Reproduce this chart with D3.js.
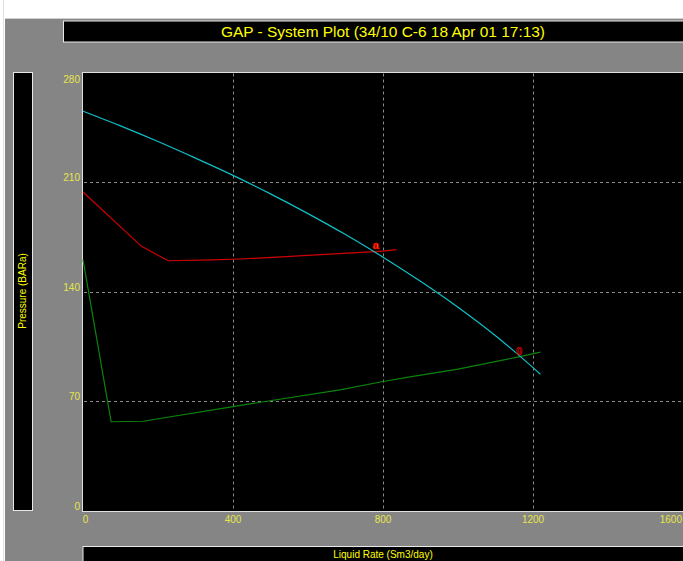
<!DOCTYPE html>
<html><head><meta charset="utf-8">
<script src="https://cdn.jsdelivr.net/npm/d3@7"></script>
<style>html,body{margin:0;padding:0;background:#fff;overflow:hidden}</style>
</head><body>
<svg id="c" width="683" height="561"></svg>
<script>
const titleText = "GAP - System Plot (34/10 C-6 18 Apr 01  17:13)";
const xLabel = "Liquid Rate  (Sm3/day)";
const yLabel = "Pressure  (BARa)";
const xTicks = [0, 400, 800, 1200, 1600];
const yTicks = [0, 70, 140, 210, 280];

const cyanX = [0, 100, 200, 300, 400, 500, 600, 700, 800, 900, 1000, 1100, 1165, 1220];
const cyanY = [255.3, 245.9, 235.9, 225.3, 214.3, 202.5, 189.9, 176.5, 162.1, 146.7, 130.1, 111.9, 98.9, 87.3];
const redX = [0, 156, 227, 343, 419, 600, 800, 836];
const redY = [203.7, 169, 159.8, 160.3, 160.9, 163.2, 166, 166.9];
const greenX = [0, 75, 160, 400, 685, 800, 880, 1000, 1165, 1220];
const greenY = [160.5, 57, 57.3, 66.7, 77.4, 82.7, 86, 90.6, 98.6, 101.5];
const markerLabels = ["a", "0"];
const markerX = [781, 1163];
const markerY = [167.5, 99.7];

const svg = d3.select("#c");
const W = 683, H = 561;
const plot = {l: 83, r: 683, t: 72.5, b: 511};
const x = d3.scaleLinear().domain([0, 1600]).range([plot.l, plot.r]);
const y = d3.scaleLinear().domain([0, 280]).range([plot.b, plot.t]);
const font = "'Liberation Sans', Arial, sans-serif";
const yellow = "#ffff00";
const tickYellow = "#e6e64c";

// background
svg.append("rect").attr("width", W).attr("height", H).attr("fill", "#ffffff");
svg.append("rect").attr("x", 5).attr("y", 19).attr("width", W - 5).attr("height", H - 19).attr("fill", "#858585");
svg.append("line").attr("x1", 3.5).attr("x2", 3.5).attr("y1", 0).attr("y2", H).attr("stroke", "#e0e0e0");
svg.append("line").attr("x1", 5).attr("x2", W).attr("y1", 18.5).attr("y2", 18.5).attr("stroke", "#d0d0d0");

// title box
svg.append("rect").attr("x", 63.5).attr("y", 21).attr("width", W).attr("height", 21)
  .attr("fill", "#000").attr("stroke", "#e8e8e8").attr("stroke-width", 1);
svg.append("text").attr("x", 383).attr("y", 37).attr("text-anchor", "middle")
  .attr("font-family", font).attr("font-size", 15.5).attr("fill", yellow)
  .attr("textLength", 324).attr("lengthAdjust", "spacingAndGlyphs").text(titleText);

// y label box
svg.append("rect").attr("x", 13.5).attr("y", 72.5).attr("width", 19).attr("height", 438)
  .attr("fill", "#000").attr("stroke", "#e8e8e8");
svg.append("text").attr("transform", "translate(26,291) rotate(-90)").attr("text-anchor", "middle")
  .attr("font-family", font).attr("font-size", 10).attr("fill", yellow).text(yLabel);

// x label box
svg.append("rect").attr("x", 83).attr("y", 546.5).attr("width", W).attr("height", 20)
  .attr("fill", "#000").attr("stroke", "#e8e8e8");
svg.append("text").attr("x", 383).attr("y", 558).attr("text-anchor", "middle")
  .attr("font-family", font).attr("font-size", 10).attr("fill", yellow).text(xLabel);

// plot area
svg.append("rect").attr("x", plot.l - 0.5).attr("y", plot.t).attr("width", plot.r - plot.l + 5).attr("height", plot.b - plot.t + 0.5)
  .attr("fill", "#000").attr("stroke", "#e0e0e0");

// grid
const g = svg.append("g");
g.selectAll(".gx").data(xTicks.filter(d => d > 0 && d < 1600)).join("line")
  .attr("x1", d => Math.round(x(d)) + 0.5).attr("x2", d => Math.round(x(d)) + 0.5)
  .attr("y1", plot.t + 1).attr("y2", plot.b - 1)
  .attr("stroke", "#8a8a8a").attr("stroke-dasharray", "3,3");
g.selectAll(".gy").data(yTicks.filter(d => d > 0 && d < 280)).join("line")
  .attr("y1", d => Math.round(y(d)) + 0.5).attr("y2", d => Math.round(y(d)) + 0.5)
  .attr("x1", plot.l + 1).attr("x2", plot.r)
  .attr("stroke", "#8a8a8a").attr("stroke-dasharray", "3,3");

// tick labels
svg.selectAll(".yt").data(yTicks).join("text")
  .attr("x", 80).attr("y", d => d === 280 ? y(d) + 10 : y(d) - 1)
  .attr("text-anchor", "end").attr("font-family", font).attr("font-size", 10)
  .attr("fill", tickYellow).text(d => d);
svg.selectAll(".xt").data(xTicks).join("text")
  .attr("x", d => d === 0 ? x(d) + 2.5 : (d === 1600 ? 682 : x(d)))
  .attr("y", 523)
  .attr("text-anchor", d => d === 1600 ? "end" : "middle").attr("font-family", font).attr("font-size", 10)
  .attr("fill", tickYellow).text(d => d);

// curves
const line = d3.line().x(d => x(d[0])).y(d => y(d[1]));
const smooth = d3.line().x(d => x(d[0])).y(d => y(d[1])).curve(d3.curveMonotoneX);
function draw(xs, ys, col, gen) {
  svg.append("path").datum(xs.map((v, i) => [v, ys[i]])).attr("d", gen)
    .attr("fill", "none").attr("stroke", col).attr("stroke-width", 1.2);
}
draw(greenX, greenY, "#0b840b", line);
draw(redX, redY, "#d00000", line);
draw(cyanX, cyanY, "#10c0c8", smooth);

// operating point markers
svg.selectAll(".mk").data(markerLabels).join("text")
  .attr("x", (d, i) => x(markerX[i])).attr("y", (d, i) => y(markerY[i]))
  .attr("text-anchor", "middle").attr("font-family", font).attr("font-size", 11).attr("font-weight", "bold")
  .attr("fill", (d, i) => i === 0 ? "#ff6000" : "none")
  .attr("stroke", "#e00000").attr("stroke-width", 0.7).text(d => d);
</script>
</body></html>
